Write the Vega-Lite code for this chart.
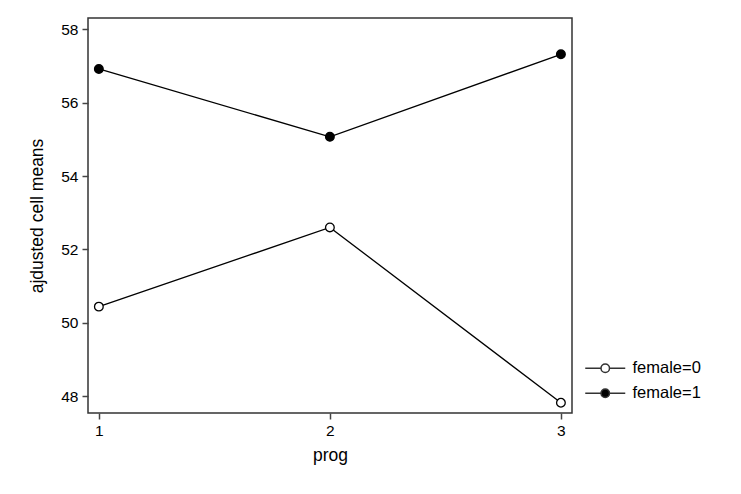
{
  "$schema": "https://vega.github.io/schema/vega-lite/v6.json",
  "width": 484,
  "height": 395,
  "autosize": {"type": "none"},
  "padding": {"left": 88, "top": 18, "right": 169, "bottom": 81},
  "background": "white",
  "data": {
    "values": [
      {"prog": 1, "group": "female=0", "mean": 50.44},
      {"prog": 2, "group": "female=0", "mean": 52.6},
      {"prog": 3, "group": "female=0", "mean": 47.82},
      {"prog": 1, "group": "female=1", "mean": 56.92},
      {"prog": 2, "group": "female=1", "mean": 55.07},
      {"prog": 3, "group": "female=1", "mean": 57.32}
    ]
  },
  "encoding": {
    "x": {
      "field": "prog",
      "type": "quantitative",
      "scale": {"domain": [0.953, 3.048], "nice": false, "zero": false},
      "axis": {"values": [1, 2, 3], "labelExpr": "format(datum.value, '.0f')", "labelOverlap": false, "labelFlush": false, "title": "prog"}
    },
    "y": {
      "field": "mean",
      "type": "quantitative",
      "scale": {"domain": [47.54, 58.31], "nice": false, "zero": false},
      "axis": {"values": [48, 50, 52, 54, 56, 58], "labelExpr": "format(datum.value, '.0f')", "labelOverlap": false, "labelFlush": false, "title": "ajdusted cell means"}
    }
  },
  "layer": [
    {
      "mark": {"type": "line", "color": "black", "strokeWidth": 1.3},
      "encoding": {"detail": {"field": "group"}}
    },
    {
      "mark": {"type": "point", "shape": "circle", "size": 75, "stroke": "black", "strokeWidth": 1.3, "opacity": 1},
      "encoding": {
        "fill": {
          "field": "group",
          "type": "nominal",
          "scale": {"domain": ["female=0", "female=1"], "range": ["white", "black"]},
          "legend": {
            "title": null,
            "orient": "none",
            "legendX": 509,
            "legendY": 342,
            "padding": 0,
            "symbolType": "M-4,0H-0.85M0.85,0H4M0.85,0A0.85,0.85,0,1,1,-0.85,0A0.85,0.85,0,1,1,0.85,0Z",
            "symbolSize": 100,
            "symbolStrokeColor": "#333333",
            "symbolStrokeWidth": 1.5,
            "symbolOpacity": 1,
            "labelOffset": 19,
            "labelFontSize": 16.5,
            "labelFont": "Liberation Sans",
            "labelColor": "black",
            "rowPadding": 8
          }
        }
      }
    }
  ],
  "config": {
    "view": {"stroke": "#333333", "strokeWidth": 1.5},
    "axis": {
      "domain": false,
      "grid": false,
      "tickColor": "#444444",
      "tickWidth": 1.5,
      "tickSize": 6,
      "labelFont": "Liberation Sans",
      "labelFontSize": 15.5,
      "labelColor": "black",
      "labelPadding": 4,
      "titleFont": "Liberation Sans",
      "titleFontSize": 17.5,
      "titleFontWeight": "normal",
      "titleColor": "black"
    },
    "axisX": {"titlePadding": 8},
    "axisY": {"titlePadding": 14}
  }
}
